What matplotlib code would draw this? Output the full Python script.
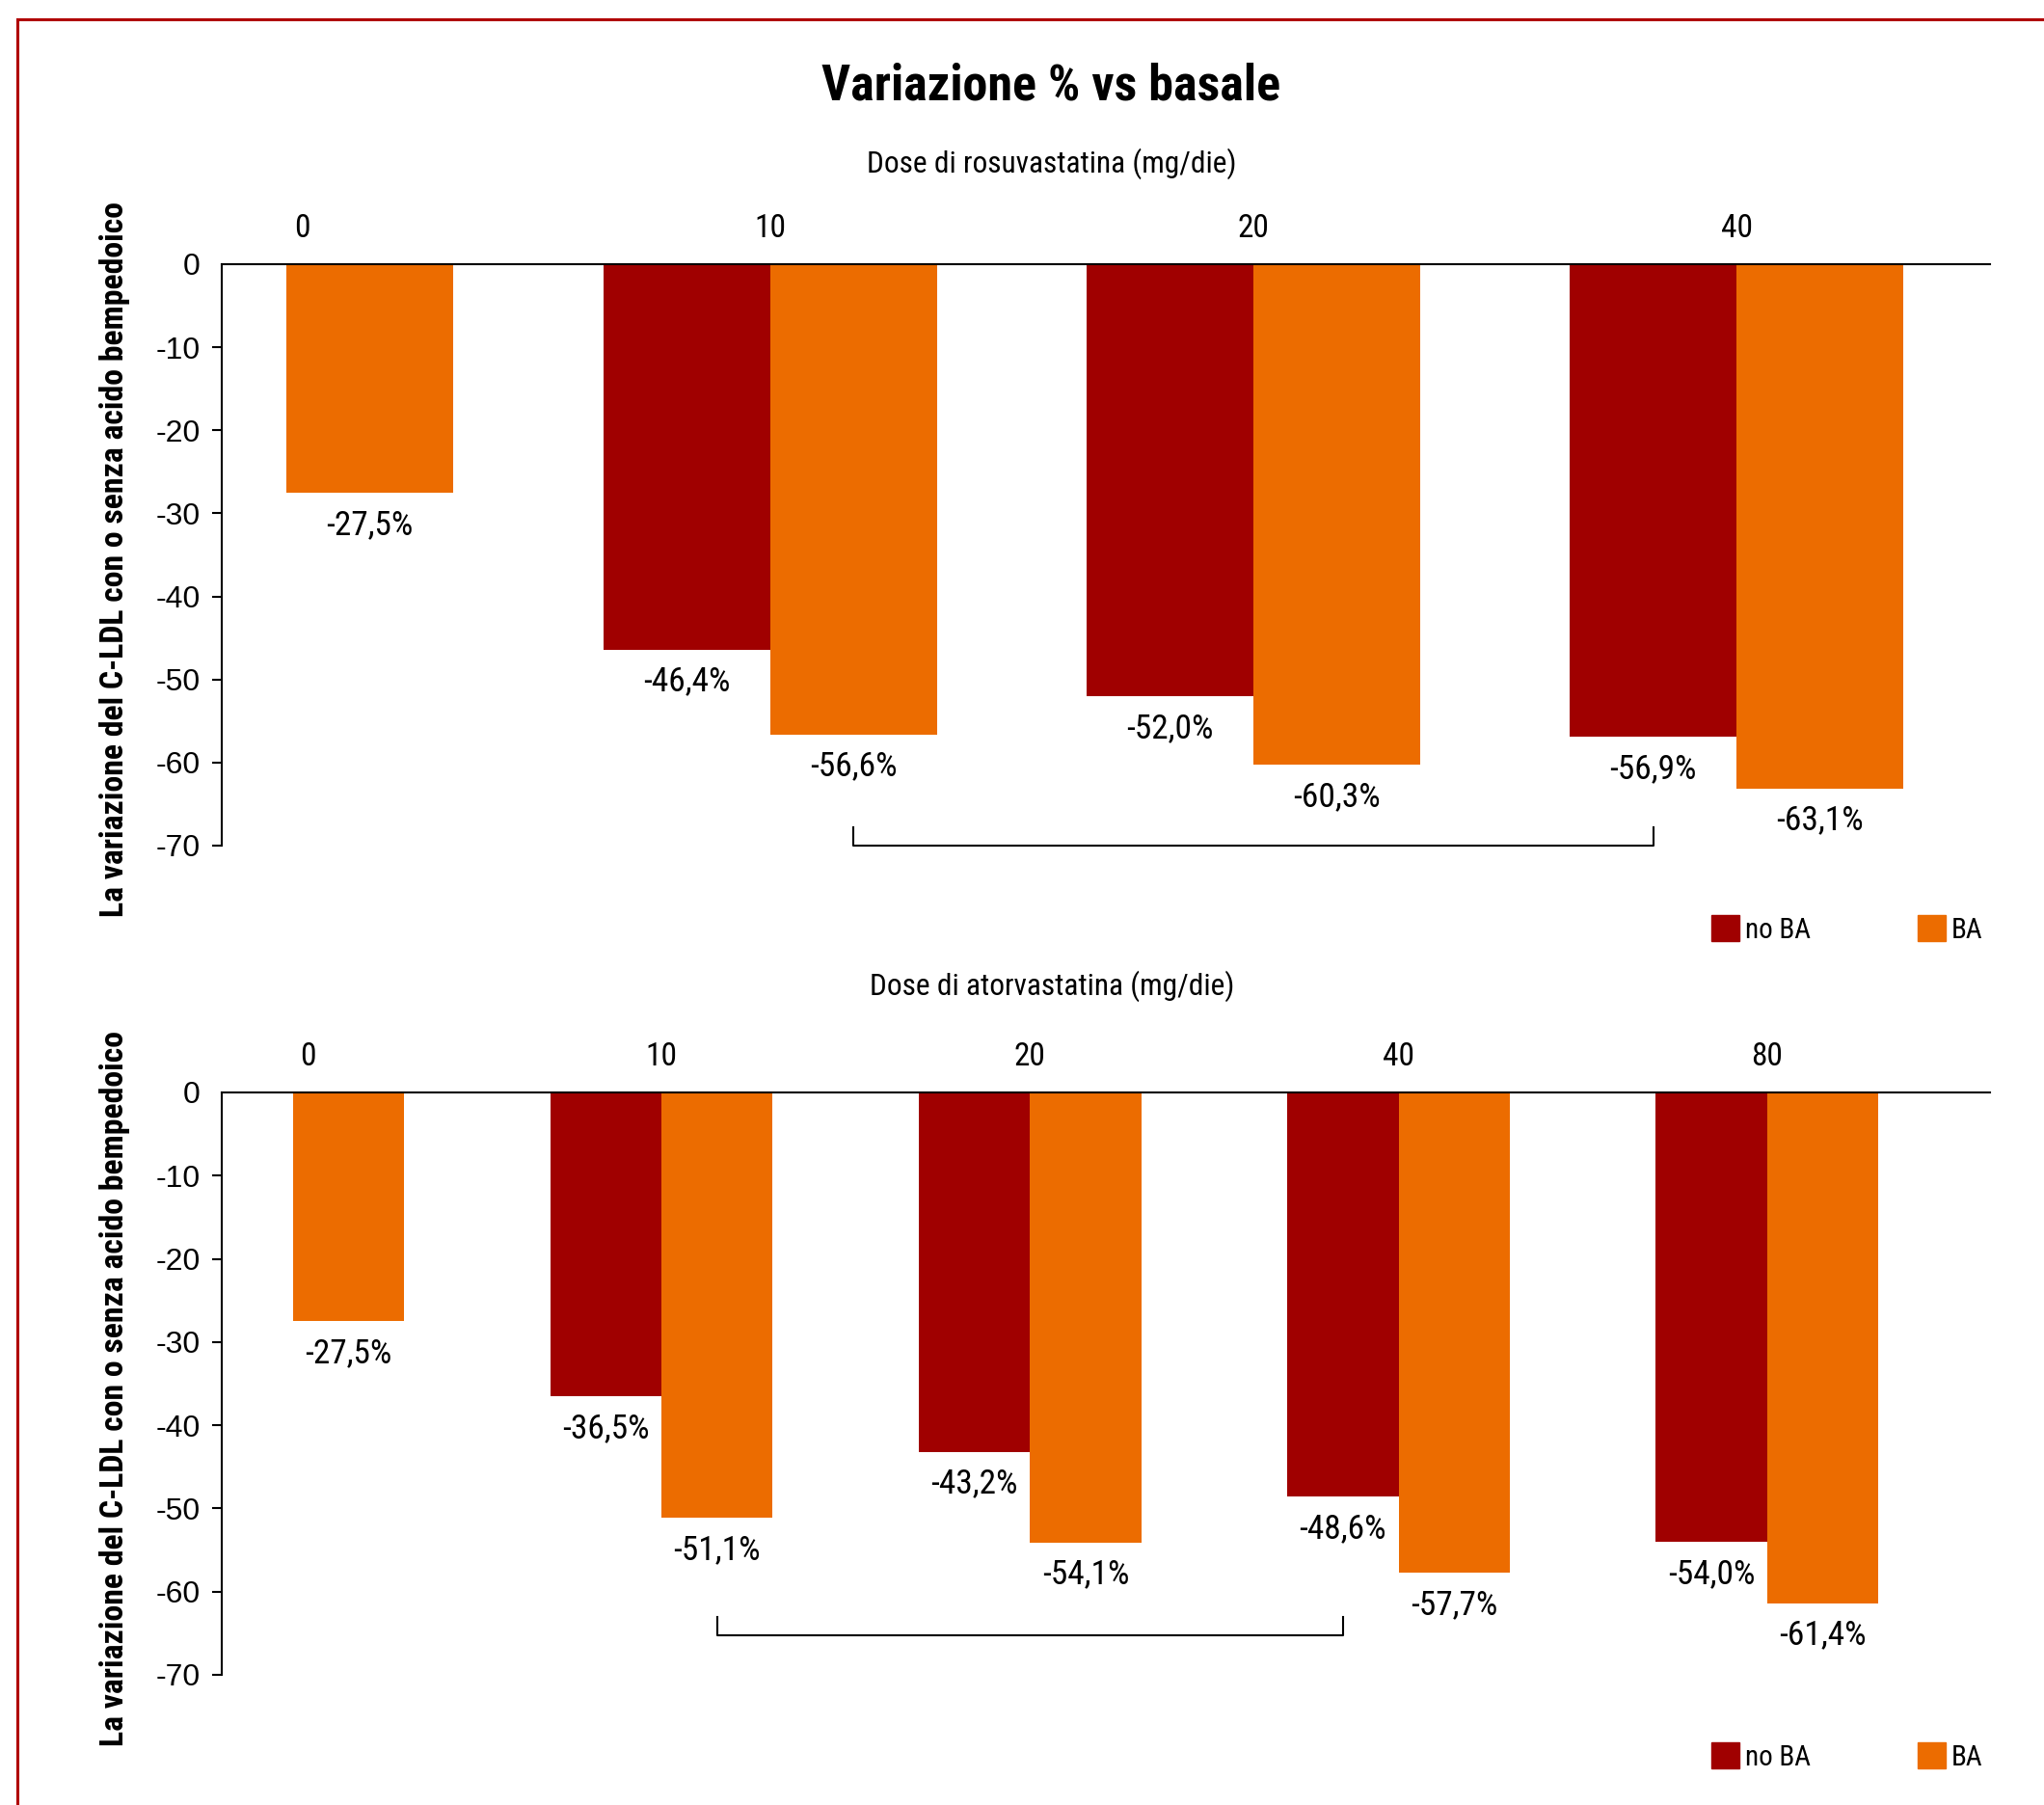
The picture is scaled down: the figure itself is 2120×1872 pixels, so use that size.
import matplotlib.pyplot as plt
from matplotlib import font_manager
from matplotlib.lines import Line2D
from matplotlib.patches import Patch
import numpy as np

# percent change of LDL-C from baseline, by statin dose
rosu_doses = ['0', '10', '20', '40']
rosu_no_ba = [None, -46.4, -52.0, -56.9]
rosu_ba = [-27.5, -56.6, -60.3, -63.1]

atorva_doses = ['0', '10', '20', '40', '80']
atorva_no_ba = [None, -36.5, -43.2, -48.6, -54.0]
atorva_ba = [-27.5, -51.1, -54.1, -57.7, -61.4]

y_ticks = list(range(-70, 1, 10))

DARK_RED = '#a00000'
ORANGE = '#ec6c00'
BORDER = '#b00000'
W, H = 2120, 1872

# pick a narrow sans for the labels, whichever is installed
_names = {f.name for f in font_manager.fontManager.ttflist}
_narrow = next((n for n in ['Nimbus Sans Narrow', 'Roboto Condensed', 'Archivo Narrow',
                            'PT Sans Narrow', 'Liberation Sans Narrow'] if n in _names),
               'DejaVu Sans')
_plain = next((n for n in ['Liberation Sans', 'Arimo', 'Nimbus Sans'] if n in _names),
              'DejaVu Sans')
NARROW = [_narrow, 'DejaVu Sans']
PLAIN = [_plain, 'DejaVu Sans']


def pct(v):
    return f'{v:.1f}%'.replace('.', ',')


def value_label(ax, xc, v):
    ax.annotate(pct(v), (xc, v), xytext=(0, -24), textcoords='offset points',
                ha='center', va='center', fontsize=25.5, family=NARROW,
                annotation_clip=False)


def draw_panel(ax, doses, no_ba, ba, width, xlim, bracket_y, first_shift):
    x = np.arange(len(doses))
    for i, v in enumerate(no_ba):
        if v is None:
            continue
        ax.bar(x[i] - width / 2, v, width, color=DARK_RED)
        value_label(ax, x[i] - width / 2, v)
    ax.bar(x + width / 2, ba, width, color=ORANGE)
    for i, v in enumerate(ba):
        value_label(ax, x[i] + width / 2, v)

    # bracket from the 10 mg BA bar to the 40 mg no-BA bar
    x1 = x[1] + width / 2
    x2 = x[3] - width / 2
    ax.plot([x1, x1, x2, x2], [bracket_y + 2.2, bracket_y, bracket_y, bracket_y + 2.2],
            color='black', lw=1.5, clip_on=False)

    ax.set_xlim(*xlim)
    ax.set_ylim(-70, 0)
    ax.spines['right'].set_visible(False)
    ax.spines['bottom'].set_visible(False)
    ax.spines['top'].set_linewidth(1.5)
    ax.spines['left'].set_linewidth(1.5)

    # dose labels sit on the group split; the lone 0 mg group is nudged right
    tick_pos = x.astype(float)
    tick_pos[0] += first_shift
    ax.xaxis.tick_top()
    ax.set_xticks(tick_pos)
    ax.set_xticklabels(doses, fontsize=24, family=NARROW)
    ax.tick_params(axis='x', length=0, pad=15)

    ax.set_yticks(y_ticks)
    ax.set_yticklabels([str(t) for t in y_ticks], fontsize=23, family=PLAIN)
    ax.tick_params(axis='y', length=7.2, width=1.5, pad=9)
    ax.yaxis.get_major_ticks()[-1].tick1line.set_visible(False)


fig = plt.figure(figsize=(W / 100, H / 100), dpi=100)

ax_top = fig.add_axes([230 / W, 1 - 877 / H, 1834 / W, 603 / H])
ax_bot = fig.add_axes([230 / W, 1 - 1737 / H, 1834 / W, 604 / H])

draw_panel(ax_top, rosu_doses, rosu_no_ba, rosu_ba, 0.345, (-0.134, 3.524), -70, 0.032)
draw_panel(ax_bot, atorva_doses, atorva_no_ba, atorva_ba, 0.302, (-0.193, 4.605), -65.3, 0.042)

fig.text(1090 / W, 1 - 89 / H, 'Variazione % vs basale', ha='center', va='center',
         fontsize=37.5, fontweight='heavy', family=NARROW)
fig.text(1091 / W, 1 - 170 / H, 'Dose di rosuvastatina (mg/die)', ha='center',
         va='center', fontsize=22.6, family=NARROW)
fig.text(1091 / W, 1 - 1023 / H, 'Dose di atorvastatina (mg/die)', ha='center',
         va='center', fontsize=22.6, family=NARROW)

ylabel = 'La variazione del C-LDL con o senza acido bempedoico'
for yc in (580, 1440):
    fig.text(119 / W, 1 - yc / H, ylabel, rotation=90, ha='center', va='center',
             fontsize=24.3, fontweight='bold', family=NARROW)

handles = [Patch(color=DARK_RED, label='no BA'), Patch(color=ORANGE, label='BA')]
for yc in (964, 1822):
    fig.legend(handles=handles, ncol=2, loc='center left',
               bbox_to_anchor=(1775 / W, 1 - yc / H), frameon=False,
               handlelength=1, handleheight=1, handletextpad=0.2,
               columnspacing=3.8, borderpad=0, borderaxespad=0,
               prop={'family': NARROW, 'size': 21})

# frame: top and left edges only
fig.add_artist(Line2D([18 / W, 1], [1 - 20 / H, 1 - 20 / H], color=BORDER, lw=2.2))
fig.add_artist(Line2D([18 / W, 18 / W], [0, 1 - 20 / H], color=BORDER, lw=2.2))

fig.savefig('out.png', dpi=100, facecolor='white')
